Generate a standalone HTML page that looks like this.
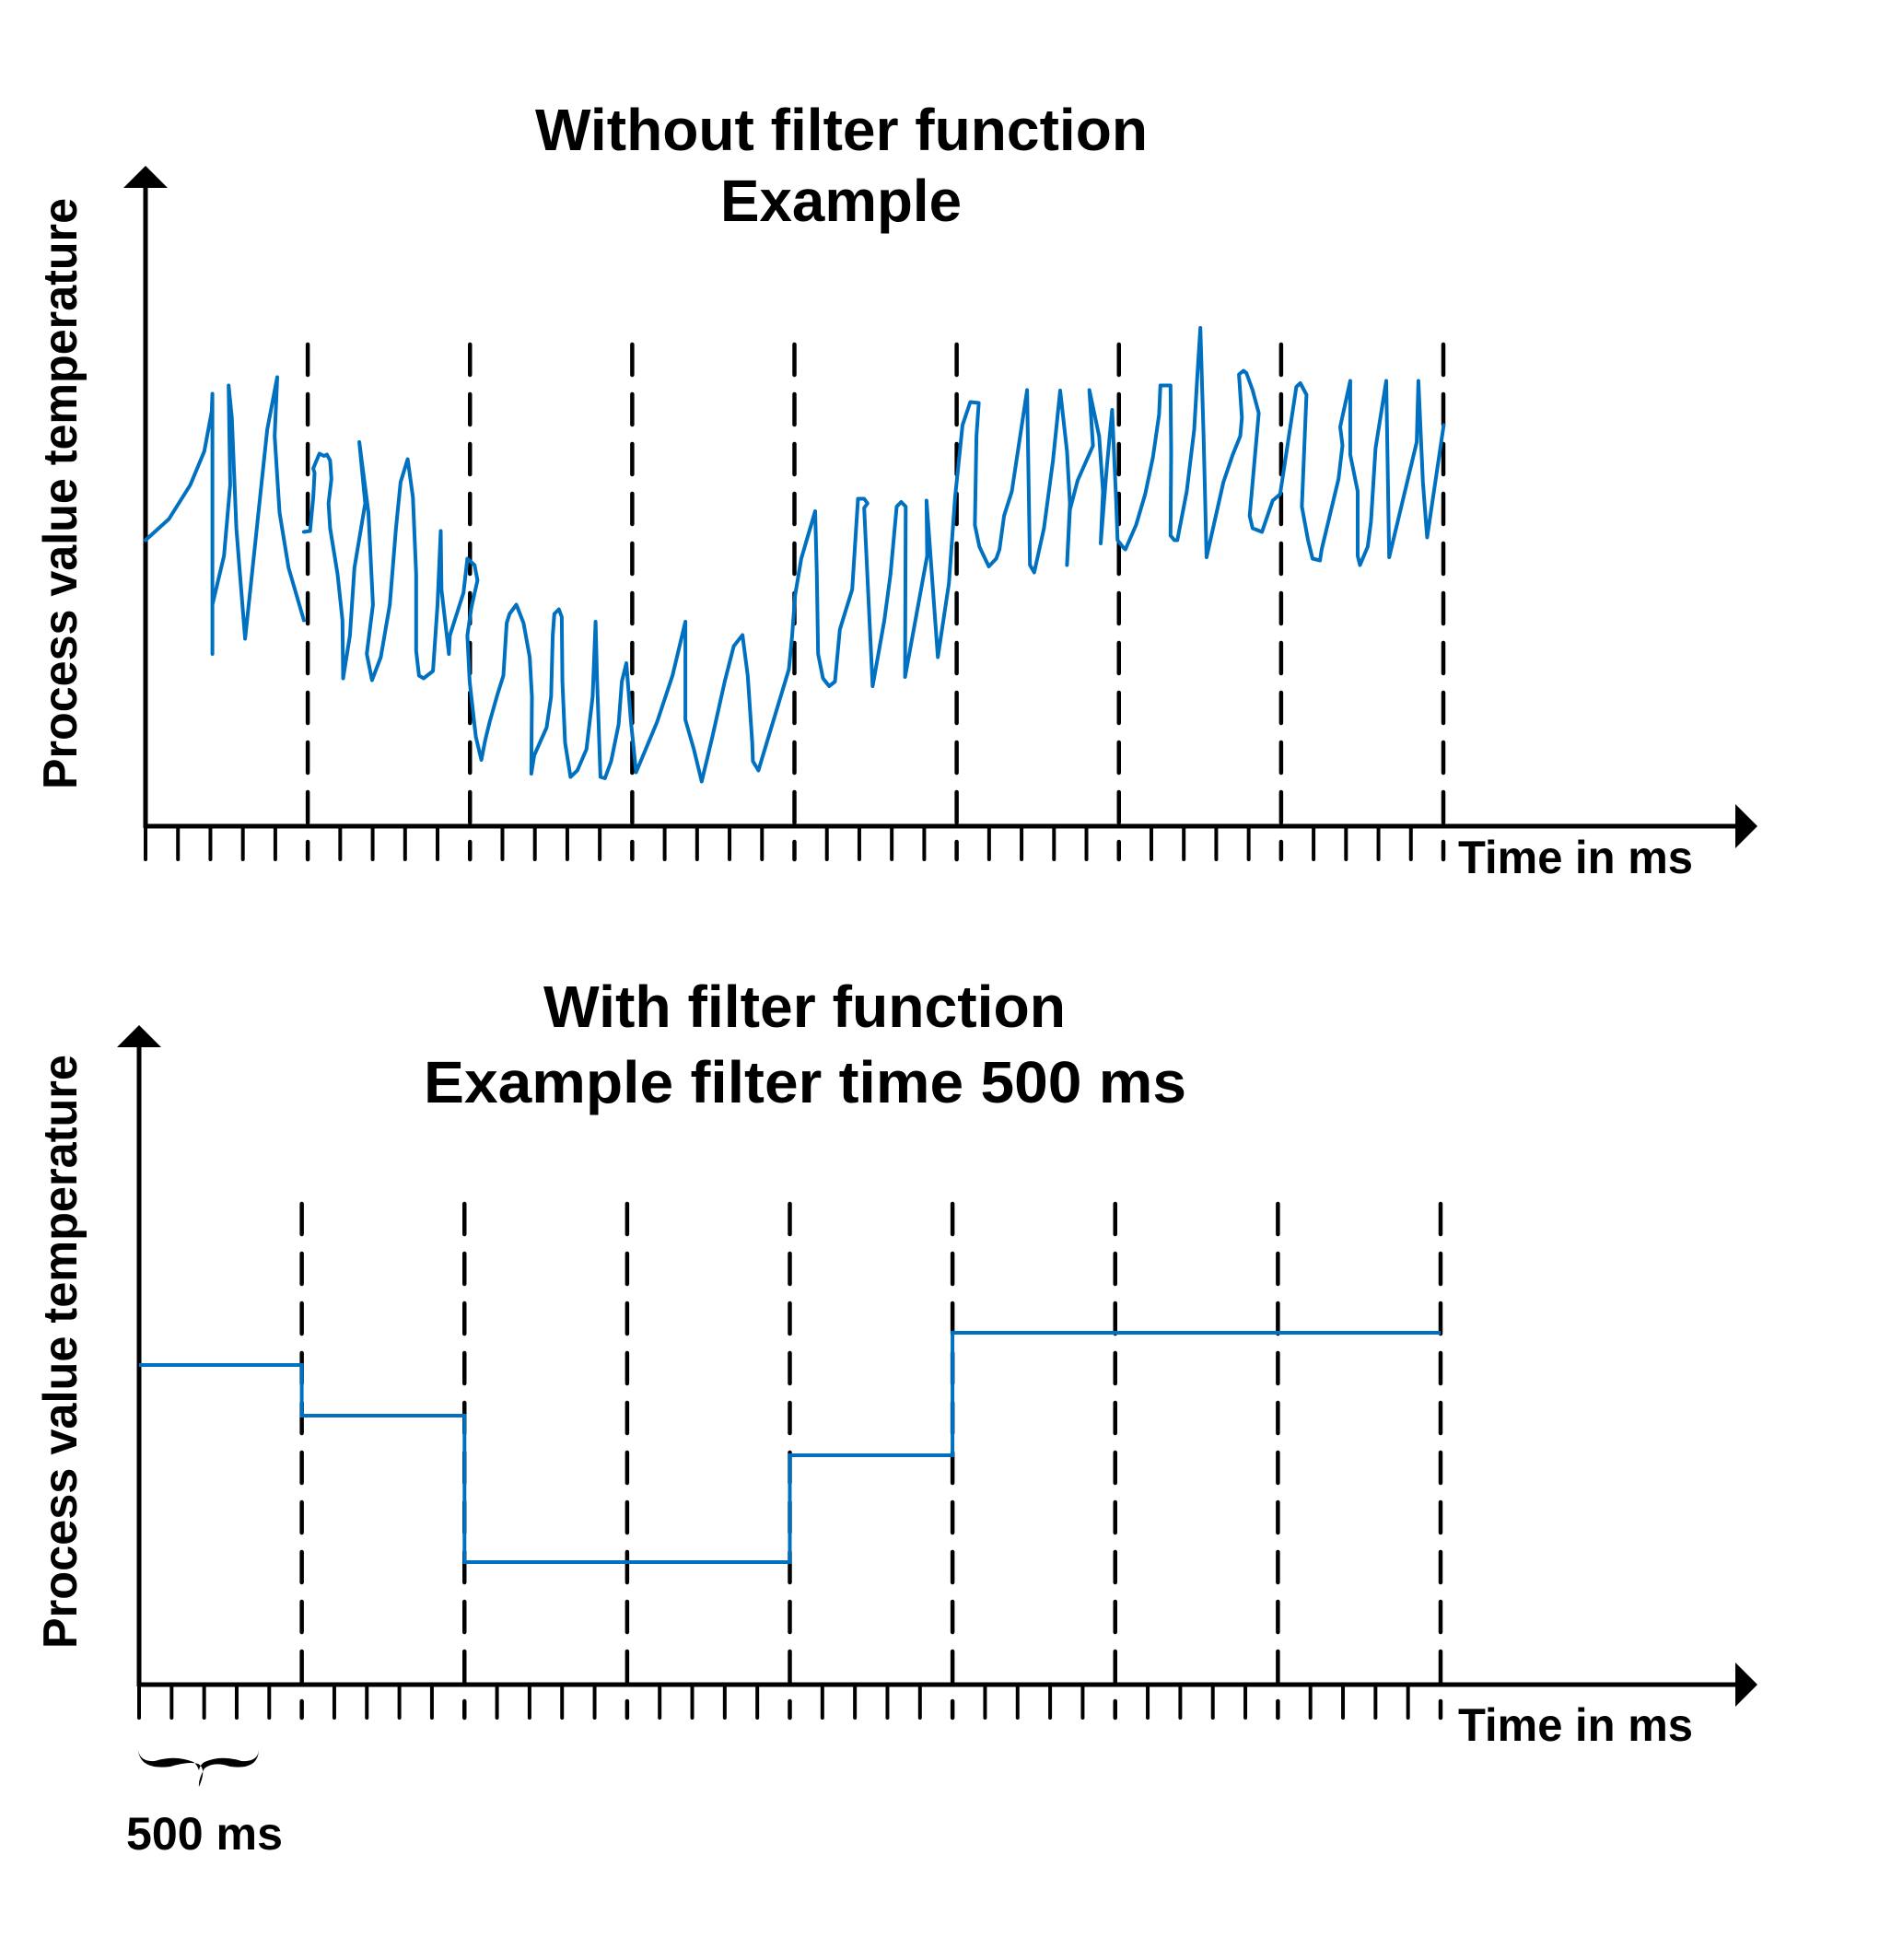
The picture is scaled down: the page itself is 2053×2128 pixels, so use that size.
<!DOCTYPE html>
<html><head><meta charset="utf-8"><style>
html,body{margin:0;padding:0;background:#fff}
svg{display:block}
text{font-family:"Liberation Sans",sans-serif;font-weight:bold;fill:#000}
</style></head><body>
<svg id="fig" width="2053" height="2128" viewBox="0 0 2053 2128" xmlns="http://www.w3.org/2000/svg">
<rect width="2053" height="2128" fill="#fff"/>
<g id="top-chart">
<text x="581" y="163" font-size="64" textLength="665" lengthAdjust="spacingAndGlyphs">Without filter function</text>
<text x="782" y="240" font-size="64" textLength="262" lengthAdjust="spacingAndGlyphs">Example</text>
<text transform="translate(83,857) rotate(-90)" font-size="52" textLength="642" lengthAdjust="spacingAndGlyphs">Process value temperature</text>
<text x="1583" y="948" font-size="50" textLength="255" lengthAdjust="spacingAndGlyphs">Time in ms</text>
</g>
<g id="bottom-chart">
<text x="590" y="1115" font-size="64" textLength="567" lengthAdjust="spacingAndGlyphs">With filter function</text>
<text x="460" y="1197" font-size="64" textLength="828" lengthAdjust="spacingAndGlyphs">Example filter time 500 ms</text>
<text transform="translate(83,1790) rotate(-90)" font-size="52" textLength="645" lengthAdjust="spacingAndGlyphs">Process value temperature</text>
<text x="1583" y="1890" font-size="50" textLength="255" lengthAdjust="spacingAndGlyphs">Time in ms</text>
<path d="M150,1900 Q152,1922 185,1918 Q205,1912 215,1915 Q225,1920 216,1940 Q215,1932 222,1920 Q232,1912 250,1918 Q280,1922 281,1900 Q280,1913 262,1912 Q240,1905 222,1913 Q217,1916 216,1922 Q214,1916 210,1913 Q190,1905 168,1912 Q152,1913 150,1900 Z" fill="#000"/>
<text x="137" y="2008" font-size="50" textLength="170" lengthAdjust="spacingAndGlyphs">500 ms</text>
</g>
</svg>
<script>
// ---- Top chart data (unfiltered signal) ----
const rawTime = [0,72,138,181,204,206,206,206,242,261,256,266,280,307,337,375,406,398,413,441,488,null,
488,507,517,521,517,536,550,559,569,573,564,569,592,607,609,630,644,677,659,687,701,682,698,725,753,772,786,808,824,834,834,843,857,886,900,910,912,935,938,980,992,1014,1023,
1004,992,999,1018,1035,1047,1061,1085,1103,1113,1122,1143,1165,1184,1191,1189,1198,1236,1250,1255,1260,1274,1283,1285,1293,1310,1331,1359,1378,1387,1392,1402,1416,1435,1458,1468,1482,1496,1512,1577,1624,1664,1664,1690,1714,1747,1785,1813,1840,1856,1870,1872,1889,1917,1983,1993,2002,2021,
2064,2069,2073,2088,2107,2125,2140,2178,2196,2215,2225,2215,2241,2277,2296,2315,2329,2343,2341,2409,2407,2442,2476,2495,2518,2542,2568,2561,2556,2570,2599,2622,2632,2646,2670,2717,2726,2739,2769,2797,2819,2840,2849,2840,2849,2873,2920,2909,2939,2951,2944,2963,2979,2991,2996,3015,
3020,3053,3081,3105,3124,3128,3159,3161,3159,3171,3180,3209,3232,3242,3251,3261,3270,3322,3351,3374,3379,3370,3384,3393,3412,3431,3403,3412,3441,3474,3497,3547,3559,3578,3564,3583,3597,3620,3625,3677,3689,3682,3713,3713,3736,3736,3743,3767,3777,3791,3824,3833,3918,3923,3937,3950,4001];
const rawValue = [62.1,66.7,74.1,81.4,90.1,93.9,37.4,48.1,58.7,74.1,95.7,88.7,64.7,40.7,60.7,86.1,97.5,84.7,68.1,56.1,44.7,null,
63.9,64.1,71.4,76.7,77.7,80.9,80.4,80.7,79.4,75.4,70.1,64.7,54.7,44.7,32.1,41.4,56.1,70.1,83.4,68.1,48.1,37.4,31.7,36.7,48.1,64.7,74.7,79.7,71.4,54.7,38.1,32.7,32.1,33.7,48.1,64.1,51.4,37.4,41.4,50.7,58.1,56.7,53.4,
47.4,41.4,31.4,19.4,14.4,18.7,22.7,28.7,32.7,44.1,46.1,48.1,44.1,36.7,28.1,11.4,15.4,21.4,28.1,41.4,46.1,47.1,45.4,31.4,18.1,10.7,12.1,16.7,28.1,44.4,31.4,10.7,10.4,14.1,22.1,31.4,35.4,22.7,11.7,22.7,32.7,44.4,23.1,16.7,9.7,19.4,31.4,39.1,41.5,32.7,18.1,14.1,12.1,18.7,34.1,41.4,50.1,58.1,
68.4,54.7,37.4,32.1,30.4,31.4,42.7,51.4,71.1,71.1,70.1,69.1,30.4,44.7,54.7,69.4,70.4,69.4,32.4,58.7,70.7,36.7,52.7,71.4,87.1,92.1,91.9,84.7,65.4,60.7,56.4,58.1,60.1,67.4,72.7,94.7,56.7,55.1,64.7,79.4,94.6,81.4,70.1,56.7,68.7,75.1,82.6,94.7,84.7,72.7,61.4,78.1,90.4,71.4,62.1,60.4,
60.1,65.4,72.1,80.1,89.4,95.7,95.7,81.4,63.1,62.1,62.1,72.7,86.1,98.1,108.2,84.7,58.4,74.7,80.7,84.7,88.7,98.1,98.9,98.4,94.7,89.7,67.4,64.7,63.9,70.7,72.1,95.4,96.2,93.7,69.4,62.1,58.1,57.7,60.1,75.4,82.7,86.7,96.7,80.7,72.7,58.7,56.7,60.7,66.1,82.1,96.7,58.4,83.4,96.7,74.7,62.7,87.1];
// ---- Bottom chart data (filtered, 500 ms steps) ----
const stepStart = [0,500,1000,2000,2500];
const stepEnd = [500,1000,2000,2500,4000];
const stepValue = [69.4,58.4,26.6,49.8,76.4];
const tickCount = 40;
const tickMs = 100;
const gridEveryTicks = 5;

const NS='http://www.w3.org/2000/svg';
const svg=document.getElementById('fig');
function mk(tag,attrs,parent){const e=document.createElementNS(NS,tag);for(const k in attrs)e.setAttribute(k,attrs[k]);(parent||svg).appendChild(e);return e;}

function drawAxes(P,g,prefix){
  const xs=t=>P.x0+t*P.pxPerMs;
  // dashed grid lines
  for(let i=gridEveryTicks;i<=tickCount;i+=gridEveryTicks){
    const l=mk('line',{x1:xs(i*tickMs),x2:xs(i*tickMs),y1:P.dashTop,y2:P.y0+36,stroke:'#000','stroke-width':4.5,'stroke-dasharray':'33 21','stroke-linecap':'round'},g);
    
    
  }
  // ticks
  for(let i=0;i<=tickCount;i++){
    if(i>0&&i%gridEveryTicks===0)continue;
    const l=mk('line',{x1:xs(i*tickMs),x2:xs(i*tickMs),y1:P.y0,y2:P.y0+36,stroke:'#000','stroke-width':4,'stroke-linecap':'round'},g);
    
    
  }
  const ya=mk('line',{x1:P.x0,x2:P.x0,y1:P.yTop+22,y2:P.y0+2,stroke:'#000','stroke-width':5},g);
  
  
  const yh=mk('polygon',{points:`${P.x0-24},${P.yTop+24} ${P.x0+24},${P.yTop+24} ${P.x0},${P.yTop}`,fill:'#000'},g);
  
  
  const xa=mk('line',{x1:P.x0-2,x2:1888,y1:P.y0,y2:P.y0,stroke:'#000','stroke-width':5},g);
  
  
  const xh=mk('polygon',{points:`1884,${P.y0-24} 1884,${P.y0+24} 1908,${P.y0}`,fill:'#000'},g);
  
  
  return xs;
}

// Top chart
const PT={x0:158,y0:897,yTop:180,dashTop:374,pxPerMs:1409/4000,pxPerUnit:5};
const gTop=document.getElementById('top-chart');
const xT=drawAxes(PT,gTop,'top');
const yT=v=>PT.y0-v*PT.pxPerUnit;
let d='',pen=false;
for(let i=0;i<rawTime.length;i++){
  if(rawTime[i]===null||rawValue[i]===null){pen=false;continue;}
  d+=(pen?'L':'M')+xT(rawTime[i]).toFixed(1)+','+yT(rawValue[i]).toFixed(1)+' ';
  pen=true;
}
const raw=mk('path',{d:d,fill:'none',stroke:'#0070C0','stroke-width':4,'stroke-linejoin':'round','stroke-linecap':'round'},gTop);



// Bottom chart
const PB={x0:151,y0:1829,yTop:1113,dashTop:1307,pxPerMs:1413/4000,pxPerUnit:5};
const gBot=document.getElementById('bottom-chart');
const xB=drawAxes(PB,gBot,'bottom');
const yB=v=>PB.y0-v*PB.pxPerUnit;
let sd='';
for(let i=0;i<stepStart.length;i++){
  sd+=(i===0?'M':'L')+xB(stepStart[i]).toFixed(1)+','+yB(stepValue[i]).toFixed(1)+' L'+xB(stepEnd[i]).toFixed(1)+','+yB(stepValue[i]).toFixed(1)+' ';
}
const st=mk('path',{d:sd,fill:'none',stroke:'#0070C0','stroke-width':4},gBot);


</script>
</body></html>
